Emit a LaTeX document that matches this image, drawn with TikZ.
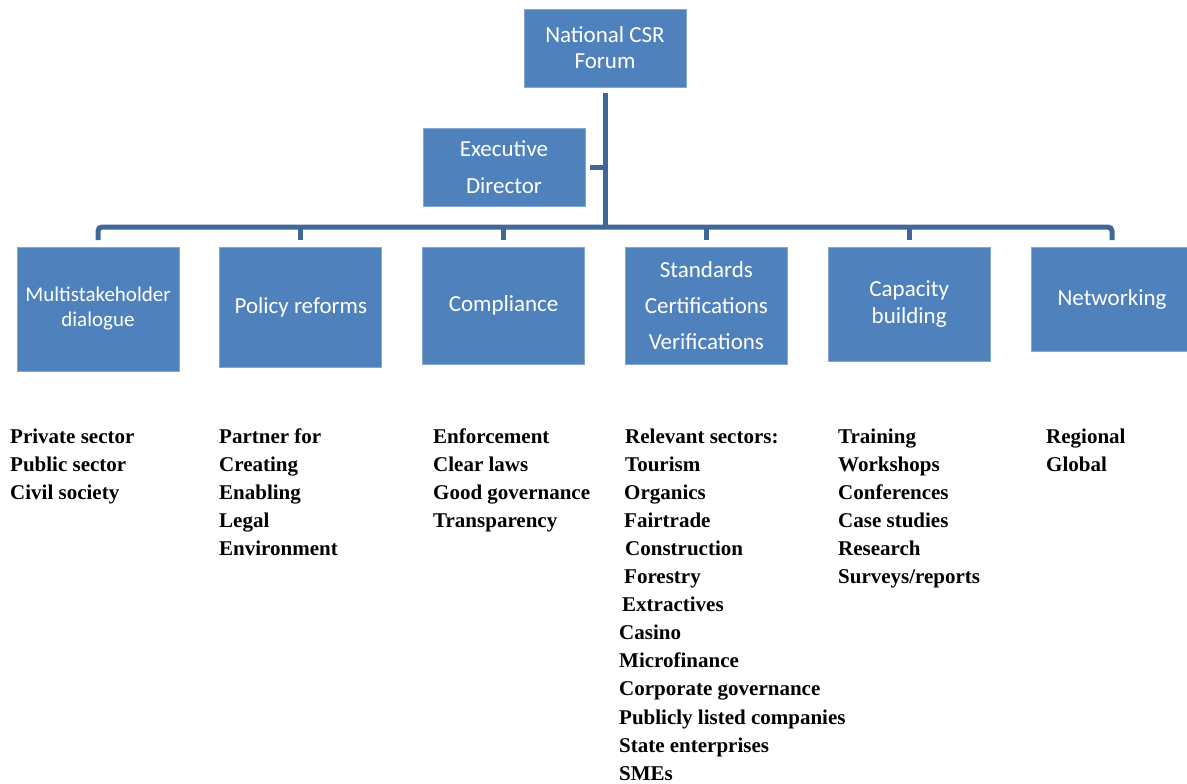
\documentclass[tikz,border=0pt]{standalone}
\usepackage{fontspec}
\usetikzlibrary{positioning}
\newfontfamily\boxfont{Carlito}
\newfontfamily\listfont{Liberation Serif}
\definecolor{boxblue}{HTML}{4F81BD}
\definecolor{linkblue}{HTML}{3F6797}
\begin{document}
\begin{tikzpicture}[x=1pt,y=-1pt,
    box/.style={rectangle,fill=boxblue,draw=boxblue!70!white,line width=0.8pt,text=white,outer sep=0pt,
        align=center,inner sep=0pt,minimum width=162pt,font=\boxfont\fontsize{23}{27}\selectfont},
    link/.style={draw=linkblue,line width=5pt},
    items/.style={anchor=base west,align=left,inner sep=0pt,font=\listfont\bfseries\fontsize{21}{28.1}\selectfont}]
        \useasboundingbox (0,0) rectangle (1187,784);

        \node[box,minimum height=78pt,anchor=north west,font=\boxfont\fontsize{23}{26}\selectfont] (nat) at (524,9) {National CSR\\Forum};
        \node[box,minimum height=78pt,anchor=north west,font=\boxfont\fontsize{23}{37}\selectfont] (exec) at (423,128) {Executive\\Director};

        \node[box,minimum height=124pt,anchor=north west,font=\boxfont\fontsize{21}{25}\selectfont] (ms) at (17,247) {Multistakeholder\\dialogue};
        \node[box,minimum height=120pt] (pol) [right=40.8pt of ms.north east,anchor=north west] {Policy reforms};
        \node[box,minimum height=117pt] (com) [right=40.8pt of pol.north east,anchor=north west] {Compliance};
        \node[box,minimum height=117pt,font=\boxfont\fontsize{23}{36}\selectfont] (std) [right=40.8pt of com.north east,anchor=north west] {Standards\\Certifications\\Verifications};
        \node[box,minimum height=114pt] (cap) [right=40.8pt of std.north east,anchor=north west] {Capacity\\building};
        \node[box,minimum height=104pt] (net) [right=40.8pt of cap.north east,anchor=north west] {Networking};

        \coordinate (bus) at (605,227);
        \draw[link,shorten <=6pt] (nat.south) -- (bus);
        \draw[link,shorten <=5pt] (exec.east) -- (exec.east -| bus);
        \draw[link,rounded corners=4pt,shorten <=7pt,shorten >=7pt] (ms.north) -- (ms.north |- bus) -- (net.north |- bus) -- (net.north);
        \foreach \b in {pol,com,std,cap}{
            \draw[link,shorten >=7pt] (\b.north |- bus) -- (\b.north);
        }

        % lists: anchored at the baseline of their last line
        \node[items] (msl) at (10,499.2) {Private sector\\Public sector\\Civil society};
        \node[items] (poll) at (219,555.4) {Partner for\\Creating\\Enabling\\Legal\\Environment};
        \node[items] (coml) at (433,527.3) {Enforcement\\Clear laws\\Good governance\\Transparency};
        \node[items] (stdl) at (619,780.2) {\hspace*{6pt}Relevant sectors:\\\hspace*{6pt}Tourism\\\hspace*{5pt}Organics\\\hspace*{5pt}Fairtrade\\\hspace*{6pt}Construction\\\hspace*{5pt}Forestry\\\hspace*{3pt}Extractives\\Casino\\Microfinance\\Corporate governance\\Publicly listed companies\\State enterprises\\SMEs};
        \node[items] (capl) at (838,583.5) {Training\\Workshops\\Conferences\\Case studies\\Research\\Surveys/reports};
        \node[items] (netl) at (1046,471.1) {Regional\\Global};
    \end{tikzpicture}
\end{document}
